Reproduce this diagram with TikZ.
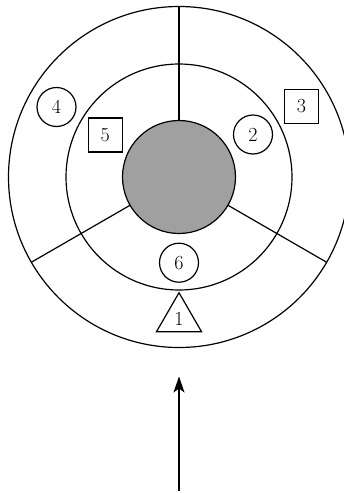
\documentclass[tikz,border=0pt]{standalone}
\usetikzlibrary{shapes.geometric,arrows.meta}
\definecolor{coregray}{RGB}{160,160,160}
\begin{document}
\begin{tikzpicture}[x=1pt,y=-1pt,line width=1.2pt,
  lbl/.style={font=\fontsize{20}{22}\selectfont,inner sep=0pt},
  roundmark/.style={lbl,draw,circle,minimum size=39pt},
  squaremark/.style={lbl,draw,rectangle,minimum size=34pt},
  trimark/.style={lbl,draw,regular polygon,regular polygon sides=3,minimum size=52pt}]
  \useasboundingbox (0,0) rectangle (344,493);
  \clip (0,0) rectangle (344,493);
  \coordinate (c) at (179,177);
  % rings
  \draw (c) circle[radius=170.5];
  \draw (c) circle[radius=113];
  \node[draw,circle,fill=coregray,minimum size=113pt,inner sep=0pt] (core) at (c) {};
  % spokes between core and outer ring
  \foreach \a in {270,150,30}
    \draw (c) ++(\a:56.5) -- ++(\a:114);
  % markers
  \node[trimark] (m1) at (179,318.7) {1};
  \node[roundmark] (m2) at (253,134.5) {2};
  \node[squaremark] (m3) at (301.5,106.3) {3};
  \node[roundmark] (m4) at (56.5,107) {4};
  \node[squaremark] (m5) at (105.3,135) {5};
  \node[roundmark] (m6) at (179,262.7) {6};
  % incoming arrow
  \coordinate (arrowtail) at (179,491);
  \coordinate (arrowtip) at (179,376.5);
  \draw[-{Stealth[length=16pt,width=11pt,inset=4pt]}] (arrowtail) -- (arrowtip);
\end{tikzpicture}
\end{document}
